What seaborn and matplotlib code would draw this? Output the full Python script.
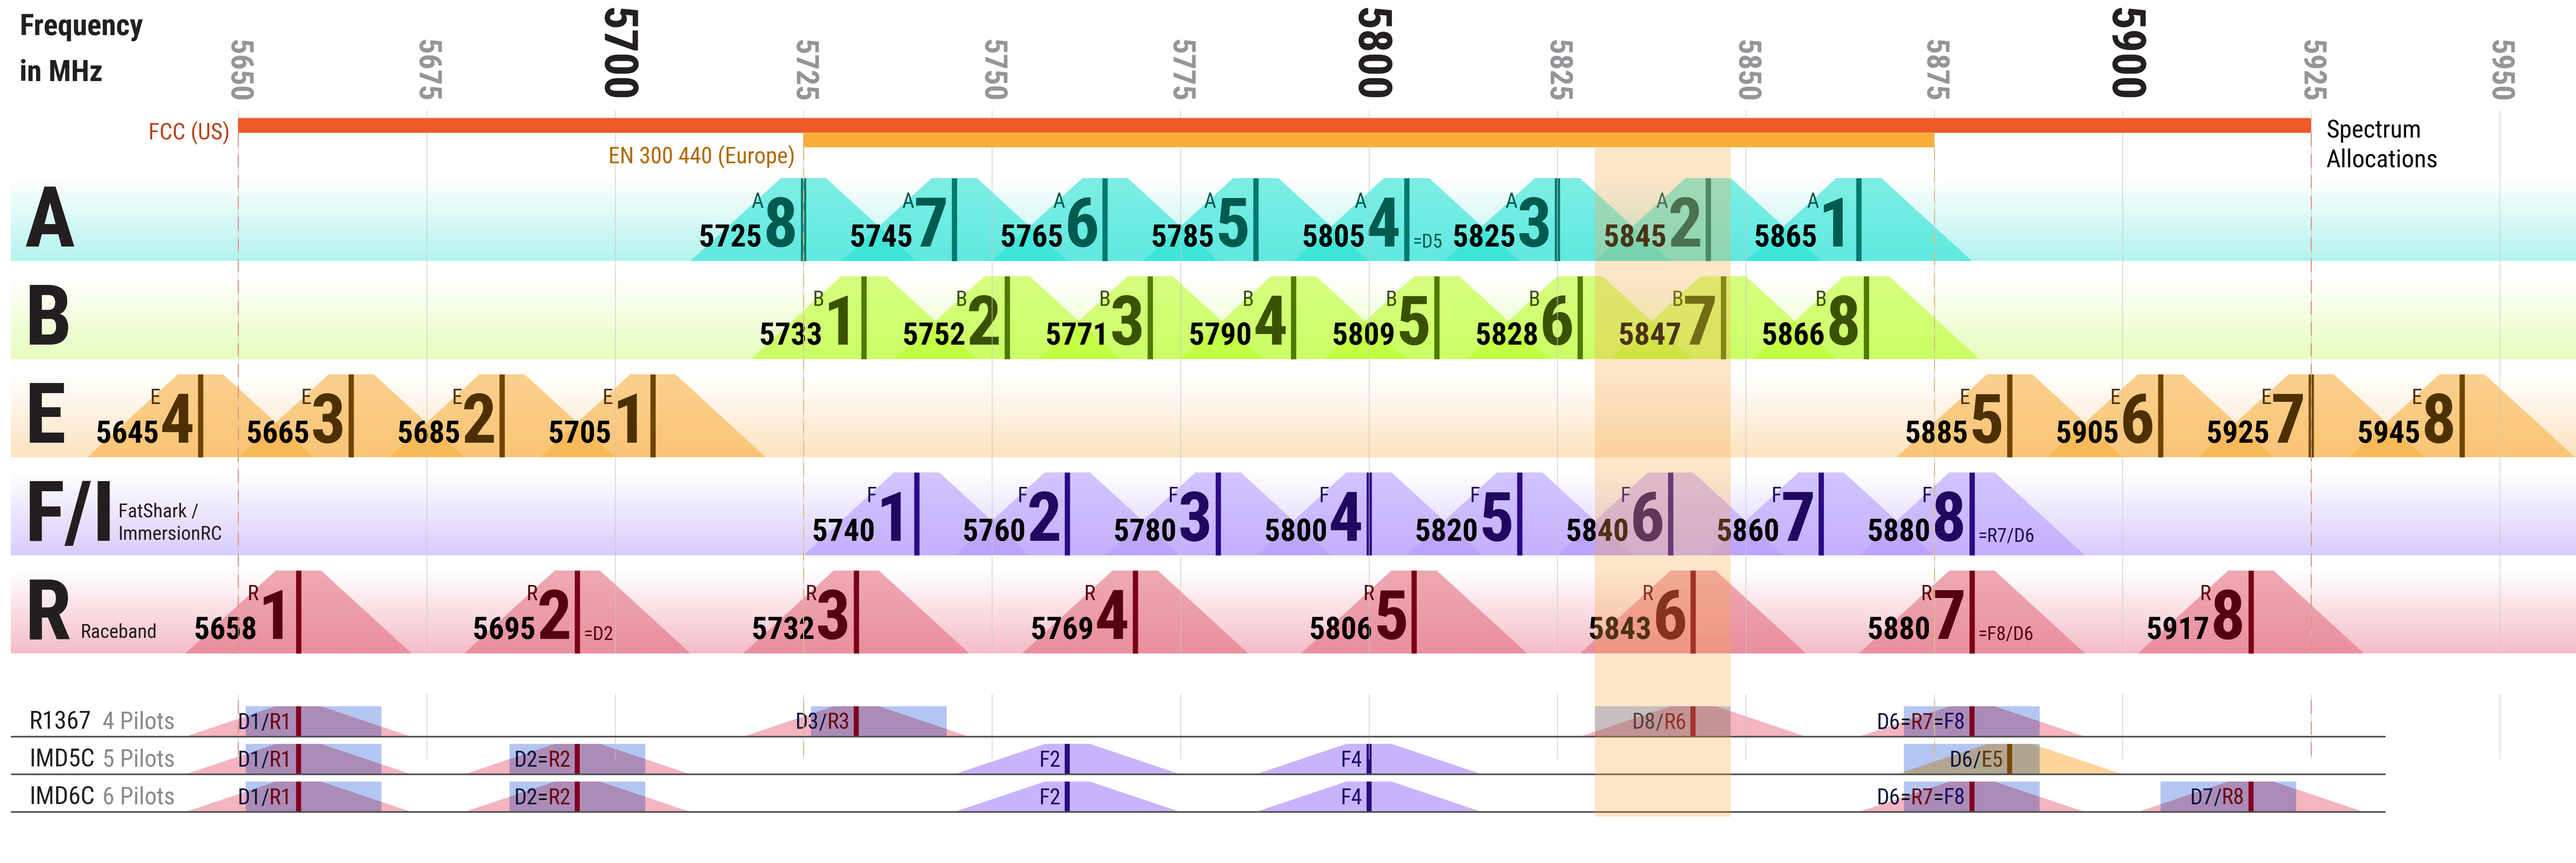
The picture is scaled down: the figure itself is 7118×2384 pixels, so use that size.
import re
import numpy as np
import matplotlib
matplotlib.use("Agg")
import matplotlib.pyplot as plt
from matplotlib import font_manager as fm
from matplotlib.patches import Polygon, Rectangle
from matplotlib.colors import to_rgb
import seaborn as sns

# video channel tables in MHz, list index = channel number - 1
band_names = ["A", "B", "E", "F", "R"]
band_titles = ["A", "B", "E", "F/I", "R"]
freq_a = [5865, 5845, 5825, 5805, 5785, 5765, 5745, 5725]
freq_b = [5733, 5752, 5771, 5790, 5809, 5828, 5847, 5866]
freq_e = [5705, 5685, 5665, 5645, 5885, 5905, 5925, 5945]
freq_f = [5740, 5760, 5780, 5800, 5820, 5840, 5860, 5880]
freq_r = [5658, 5695, 5732, 5769, 5806, 5843, 5880, 5917]
band_freqs = [freq_a, freq_b, freq_e, freq_f, freq_r]

# small notes next to some channels
note_channels = ["A4", "F8", "R2", "R7"]
note_texts = ["=D5", "=R7/D6", "=D2", "=F8/D6"]

# spectrum allocations
alloc_names = ["FCC (US)", "EN 300 440 (Europe)"]
alloc_lo = [5650, 5725]
alloc_hi = [5925, 5875]

tick_values = [5650, 5675, 5700, 5725, 5750, 5775, 5800, 5825, 5850, 5875, 5900, 5925, 5950]
major_ticks = [5700, 5800, 5900]

# DJI digital channels (centre MHz)
dji_names = ["D1", "D2", "D3", "D6", "D7", "D8"]
dji_freq = [5660, 5695, 5735, 5880, 5914, 5839]
dji_width = 18

# pilot line-ups
pilot_sets = ["R1367", "IMD5C", "IMD6C"]
pilot_counts = ["4 Pilots", "5 Pilots", "6 Pilots"]
r1367_channels = ["R1", "R3", "R6", "R7"]
r1367_dji = ["D1", "D3", "D8", "D6"]
r1367_labels = ["D1/R1", "D3/R3", "D8/R6", "D6=R7=F8"]
imd5c_channels = ["R1", "R2", "F2", "F4", "E5"]
imd5c_dji = ["D1", "D2", "", "", "D6"]
imd5c_labels = ["D1/R1", "D2=R2", "F2", "F4", "D6/E5"]
imd6c_channels = ["R1", "R2", "F2", "F4", "R7", "R8"]
imd6c_dji = ["D1", "D2", "", "", "D6", "D7"]
imd6c_labels = ["D1/R1", "D2=R2", "F2", "F4", "D6=R7=F8", "D7/R8"]
pilot_channels = [r1367_channels, imd5c_channels, imd6c_channels]
pilot_dji = [r1367_dji, imd5c_dji, imd6c_dji]
pilot_labels = [r1367_labels, imd5c_labels, imd6c_labels]
highlight_channel = "D8"

# ---- style ----
band_text_col = ["#005a50", "#3a5200", "#4d3000", "#1e0860", "#55000f"]
band_line_col = ["#007a6e", "#4f7a00", "#6e4500", "#2b0a85", "#7a0018"]
band_trap_col = ["#28e3d5", "#bbff2b", "#f8b143", "#b79dff", "#e37182"]
band_bg_col = ["#b3f3ef", "#e6fdbd", "#fde3bf", "#d9ccfd", "#f5bcc8"]
pilot_trap_col = {"R": "#f4b4c0", "F": "#c8b4fc", "E": "#fdd59a"}
pilot_line_col = {"R": "#800020", "F": "#2a0a80", "E": "#7a4a00"}
label_col = {"D": "#0b1640", "R": "#6b0012", "F": "#1c0a66", "E": "#5c3a00"}
dji_col = "#b3c6f2"


def has_font(name):
    try:
        fm.findfont(fm.FontProperties(family=name), fallback_to_default=False)
        return True
    except ValueError:
        return False


narrow = next((n for n in ["Liberation Sans Narrow", "Roboto Condensed",
                           "DejaVu Sans Condensed", "Open Sans Condensed"] if has_font(n)),
              "DejaVu Sans")

sns.set_theme(style="white")
plt.rcParams["font.family"] = [narrow, "DejaVu Sans"]
plt.rcParams["font.stretch"] = "condensed"

fig = plt.figure(figsize=(71.18, 23.84), dpi=100)
ax = fig.add_axes([0, 0, 1, 1])
ax.set_xlim(5618.41, 5960.13)
ax.set_ylim(2384, 0)
ax.axis("off")
renderer = fig.canvas.get_renderer()


def left_edge(t):
    bb = t.get_window_extent(renderer)
    return ax.transData.inverted().transform((bb.x0, bb.y0))[0]


def fit(sample, w_px, h_px, slack=1.2, **kw):
    # font size (pt) giving roughly the reference width, capped by the cap height
    t = ax.text(0, 0, sample, fontsize=100, **kw)
    w = t.get_window_extent(renderer).width
    t.remove()
    return min(h_px, slack * 100 * w_px / w)


def trapezoid(f, top, bot, **kw):
    return Polygon([(f - 15, bot), (f - 3, top), (f + 3, top), (f + 15, bot)],
                   closed=True, lw=0, **kw)


row_top = [492, 763, 1034, 1305, 1576]
row_h = 229
x_row0 = 5619.85
x_max = 5960.13

# header
s_title = fit("Frequency", 341, 74, 1.0, fontweight="bold")
ax.text(5621.0, 97, "Frequency", fontsize=s_title, fontweight="bold", color="#231f20")
ax.text(5621.0, 224, "in MHz", fontsize=s_title, fontweight="bold", color="#231f20")
s_minor = fit("5650", 143, 62, 1.2, fontweight="bold")
s_major = fit("5700", 236, 122, 1.1, fontweight="bold")
for t in tick_values:
    big = t in major_ticks
    ax.text(t, 281, str(t), rotation=-90, ha="center", va="bottom",
            fontsize=s_major if big else s_minor, fontweight="bold",
            color="#231f20" if big else "#939598")

# allocation bars
alloc_col = ["#f05a2a", "#f9ae3b"]
alloc_txt = ["#b8461b", "#b06a00"]
alloc_y = [326, 366]
alloc_base = [386, 451]
s_alloc = fit("EN 300 440 (Europe)", 517, 57, 1.0)
for i in range(2):
    ax.add_patch(Rectangle((alloc_lo[i], alloc_y[i]), alloc_hi[i] - alloc_lo[i], 41,
                           fc=alloc_col[i], lw=0, zorder=7))
    ax.text(alloc_lo[i] - 1.1, alloc_base[i], alloc_names[i], fontsize=s_alloc,
            color=alloc_txt[i], ha="right", va="baseline", zorder=7)
    for seg in [(alloc_y[i] + 41, 1805), (1934, 2097)]:
        ax.vlines([alloc_lo[i], alloc_hi[i]], seg[0], seg[1], color=alloc_col[i], lw=2.2,
                  linestyles=(0, (12, 7)), zorder=5)
s_spec = fit("Allocations", 340, 50, 1.05)
ax.text(5927.0, 380, "Spectrum", fontsize=s_spec, color="black")
ax.text(5927.0, 462, "Allocations", fontsize=s_spec, color="black")

# grid lines
for seg in [(305, 1805), (1916, 2097)]:
    ax.vlines(tick_values, seg[0], seg[1], color="#c8c8c8", lw=2, alpha=0.6, zorder=5)

# band rows
s_row = fit("F/I", 250, 179, 1.0, fontweight="bold")
s_digit = fit("8", 77, 150, 1.25, fontweight="bold")
s_freq = fit("5725", 145, 74, 1.2, fontweight="bold")
s_letter = fit("A", 26, 43, 1.3)
s_note = fit("=R7/D6", 149, 42, 1.05)
s_sub = fit("ImmersionRC", 274, 46, 1.05)
for i, freqs in enumerate(band_freqs):
    top = row_top[i]
    bot = top + row_h
    grad = np.array(sns.blend_palette(["white", band_bg_col[i]], 128))[:, None, :]
    ax.imshow(grad, extent=(x_row0, x_max, bot, top), aspect="auto",
              interpolation="bilinear", zorder=1)
    for f in freqs:
        ax.add_patch(trapezoid(f, top, bot, fc=band_trap_col[i], alpha=0.6, zorder=2))
    ax.vlines(freqs, top, bot, color=band_line_col[i], lw=10.5, zorder=3)

    ax.text(5621.7, top + 189, band_titles[i], fontsize=s_row, fontweight="bold",
            color="#231f20", zorder=4)
    if i == 3:
        ax.text(5634.1, top + 124, "FatShark /", fontsize=s_sub, color="#231f20", zorder=4)
        ax.text(5634.1, top + 187, "ImmersionRC", fontsize=s_sub, color="#231f20", zorder=4)
    if i == 4:
        ax.text(5629.1, top + 186, "Raceband", fontsize=s_sub, color="#231f20", zorder=4)

    for n, f in enumerate(freqs, start=1):
        t = ax.text(f - 0.75, top + 189, str(n), fontsize=s_digit, fontweight="bold",
                    color=band_text_col[i], ha="right", va="baseline", zorder=4)
        xl = left_edge(t)
        ax.text(xl - 0.15, top + 189, str(f), fontsize=s_freq, fontweight="bold",
                color="black", ha="right", va="baseline", zorder=4)
        ax.text(xl + 0.1, top + 37, band_names[i], fontsize=s_letter, color=band_text_col[i],
                ha="right", va="top", zorder=4)
        key = band_names[i] + str(n)
        if key in note_channels:
            ax.text(f + 0.8, top + 192, note_texts[note_channels.index(key)], fontsize=s_note,
                    color=band_text_col[i], ha="left", va="baseline", zorder=4)

# pilot rows
pilot_base = [2035, 2139, 2243]
pilot_h = 84
s_set = fit("R1367", 149, 61, 1.15)
s_cnt = fit("4 Pilots", 191, 61, 1.05)
s_lab = fit("D6=R7=F8", 223, 45, 1.1)
for k in range(3):
    base = pilot_base[k]
    top = base - pilot_h
    ax.text(5622.3, base - 21, pilot_sets[k], fontsize=s_set, color="#231f20")
    ax.text(5632.0, base - 21, pilot_counts[k], fontsize=s_cnt, color="#8a8a8a")
    sns.lineplot(x=[5619.95, 5934.8], y=[base, base], color="#4d4d4d", lw=3.2,
                 ax=ax, zorder=6)
    for ch, dj, lab in zip(pilot_channels[k], pilot_dji[k], pilot_labels[k]):
        band = ch[0]
        f = band_freqs[band_names.index(band)][int(ch[1:]) - 1]
        ax.add_patch(trapezoid(f, top, base, fc=pilot_trap_col[band], zorder=2))
        if dj:
            d = dji_freq[dji_names.index(dj)]
            rect = Rectangle((d - dji_width / 2, top), dji_width, pilot_h, fc=dji_col,
                             lw=0, zorder=2.1)
            ax.add_patch(rect)
            mult = np.array(to_rgb(dji_col)) * np.array(to_rgb(pilot_trap_col[band]))
            over = trapezoid(f, top, base, fc=mult, zorder=2.2)
            ax.add_patch(over)
            over.set_clip_path(rect)
        ax.vlines(f, top, base, color=pilot_line_col[band], lw=10, zorder=3)
        # label pieces drawn right to left
        parts = re.findall(r"[A-Z]\d|[/=]", lab)
        cols = []
        for p in parts:
            if p == "=":
                cols.append("black")
            elif p == "/":
                cols.append(cols[-1])
            else:
                cols.append(label_col[p[0]])
        x = f - 0.9
        for p, c in zip(reversed(parts), reversed(cols)):
            t = ax.text(x, base - 21, p, fontsize=s_lab, color=c, ha="right",
                        va="baseline", zorder=4)
            x = left_edge(t)

# highlighted channel column
hd = dji_freq[dji_names.index(highlight_channel)]
ax.add_patch(Rectangle((hd - dji_width / 2, 408), dji_width, 2256 - 408, fc="#f9a94b",
                       alpha=0.3, lw=0, zorder=6))

ax.set_xlim(5618.41, 5960.13)
ax.set_ylim(2384, 0)
fig.savefig("out.png", dpi=100)
